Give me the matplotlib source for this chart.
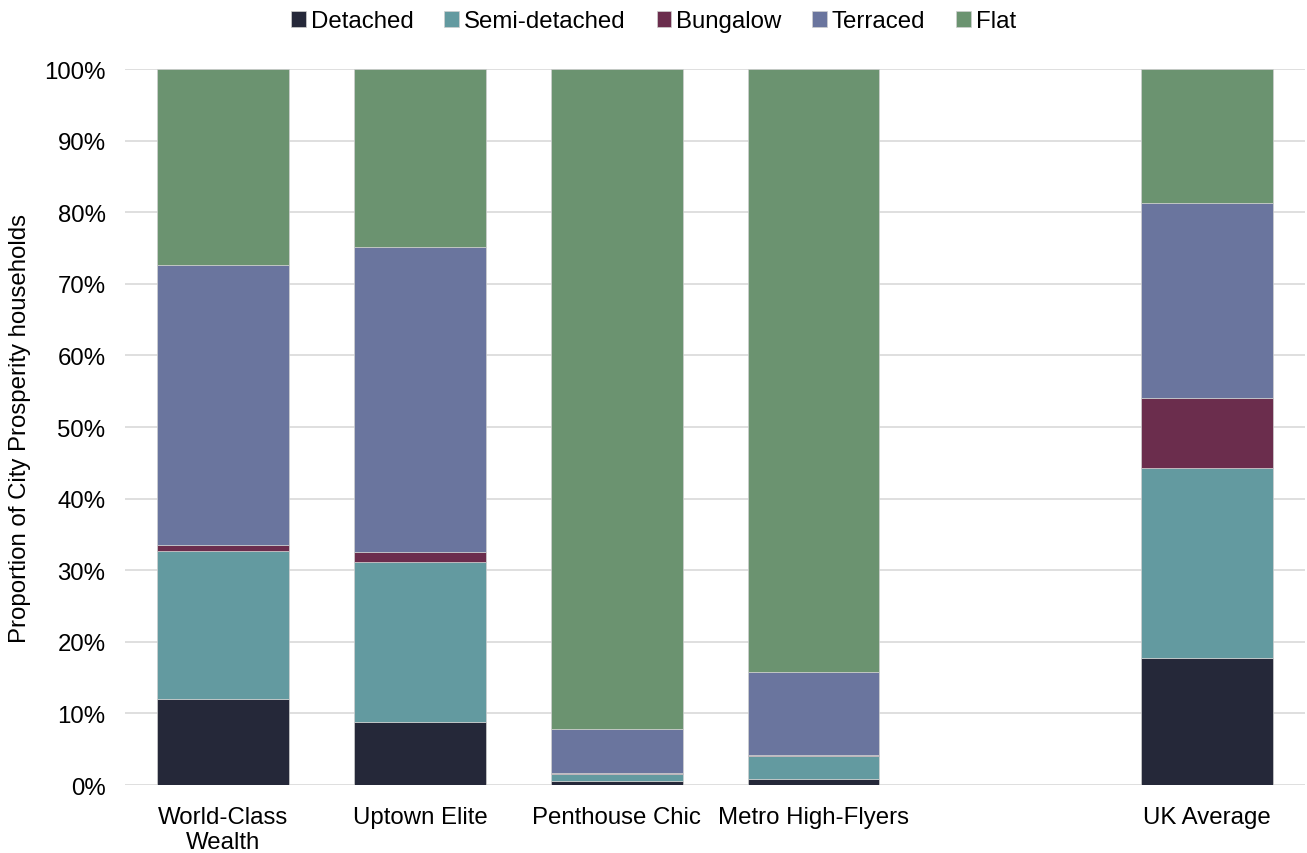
import numpy as np
import matplotlib
matplotlib.use('Agg')
import matplotlib.pyplot as plt

plt.rcParams['font.family'] = ['Liberation Sans', 'DejaVu Sans']

# data (segment heights, in %)
categories = ['World-Class\nWealth', 'Uptown Elite', 'Penthouse Chic', 'Metro High-Flyers', 'UK Average']
positions = [0, 1, 2, 3, 5]
series = ['Detached', 'Semi-detached', 'Bungalow', 'Terraced', 'Flat']
detached = [12.0, 8.8, 0.5, 0.9, 17.7]
semi = [20.7, 22.3, 1.1, 3.1, 26.6]
bungalow = [0.8, 1.4, 0.05, 0.15, 9.8]
terraced = [39.1, 42.6, 6.15, 11.65, 27.2]
flat = [27.4, 24.9, 92.2, 84.2, 18.7]
colors = ['#252839', '#639aa0', '#6b2d4d', '#6a759e', '#6b9370']

fig = plt.figure(figsize=(13.07, 8.54), dpi=100)
ax = fig.add_axes([0.0956, 0.0796, 0.903, 0.8384])

bottom = np.zeros(len(categories))
for name, vals, c in zip(series, [detached, semi, bungalow, terraced, flat], colors):
    vals = np.array(vals)
    ax.bar(positions, vals, bottom=bottom, width=0.67, color=c, label=name,
           edgecolor='#d0d0d0', linewidth=0.5, zorder=3)
    bottom += vals

ax.set_xlim(-0.5, 5.5)
ax.set_ylim(0, 100)
ax.set_yticks(np.arange(0, 101, 10))
ax.set_yticklabels([f'{v}%' for v in range(0, 101, 10)])
ax.set_xticks(positions)
ax.set_xticklabels(categories)
ax.tick_params(axis='both', length=0, labelsize=17.3, colors='black')
ax.tick_params(axis='y', pad=14)
ax.tick_params(axis='x', pad=15)
ax.grid(axis='y', color='#d9d9d9', lw=1.2, zorder=0)
for s in ax.spines.values():
    s.set_visible(False)
fig.text(20 / 1307, 0.4977, 'Proportion of City Prosperity households', fontsize=17.3,
         rotation=90, ha='center', va='center')

fig.legend(loc='upper center', bbox_to_anchor=(0.5, 1.012), ncol=5, frameon=False,
           fontsize=17.3, handlelength=0.6, handleheight=0.6, handletextpad=0.2,
           columnspacing=1.3)

plt.savefig('out.png', dpi=100)
